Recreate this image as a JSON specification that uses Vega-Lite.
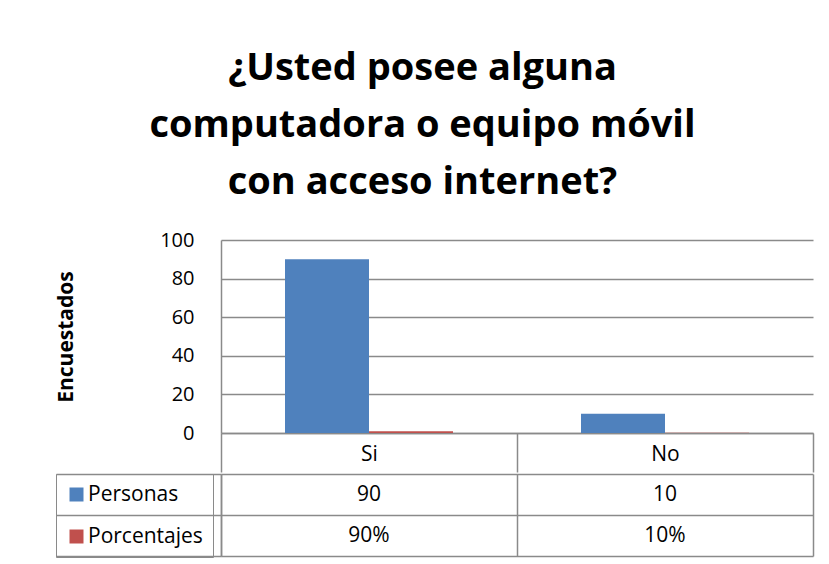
{
  "$schema": "https://vega.github.io/schema/vega-lite/v6.json",
  "background": "white",
  "padding": {"left": 55, "top": 50, "right": 17, "bottom": 5},
  "title": {
    "text": ["¿Usted posee alguna", "computadora o equipo móvil", "con acceso internet?"],
    "font": "Open Sans",
    "fontSize": 38,
    "fontWeight": "bold",
    "lineHeight": 57,
    "color": "black",
    "anchor": "middle",
    "dx": -12,
    "offset": 28
  },
  "datasets": {
    "tabla": [
      {"respuesta": "Si", "serie": "Personas", "valor": 90, "texto": "90"},
      {"respuesta": "Si", "serie": "Porcentajes", "valor": 0.9, "texto": "90%"},
      {"respuesta": "No", "serie": "Personas", "valor": 10, "texto": "10"},
      {"respuesta": "No", "serie": "Porcentajes", "valor": 0.1, "texto": "10%"}
    ]
  },
  "spacing": 0,
  "vconcat": [
    {
      "width": 592,
      "height": 193,
      "data": {"name": "tabla"},
      "mark": {"type": "bar"},
      "encoding": {
        "x": {
          "field": "respuesta", "type": "nominal", "sort": ["Si", "No"],
          "scale": {"paddingInner": 0, "paddingOuter": 0},
          "axis": {
            "title": null, "labelAngle": 0, "labelFont": "Open Sans", "labelFontSize": 21,
            "labelColor": "black", "labelBaseline": "middle", "labelPadding": -18,
            "tickBand": "extent", "tickSize": 39, "tickColor": "#8a8a8a", "tickWidth": 1.5,
            "domainColor": "#8a8a8a", "domainWidth": 1.5, "grid": false
          }
        },
        "xOffset": {
          "field": "serie", "type": "nominal", "sort": ["Personas", "Porcentajes"],
          "scale": {"paddingInner": 0, "paddingOuter": 0.762}
        },
        "y": {
          "field": "valor", "type": "quantitative",
          "scale": {"domain": [0, 100]},
          "axis": {
            "values": [0, 20, 40, 60, 80, 100],
            "title": "Encuestados", "titleFont": "Open Sans", "titleFontSize": 21,
            "titleFontWeight": "bold", "titleColor": "black", "titlePadding": 83,
            "labelFont": "Open Sans", "labelFontSize": 20, "labelColor": "black",
            "labelPadding": 27, "ticks": false,
            "grid": true, "gridColor": "#8a8a8a", "gridWidth": 1.5,
            "domainColor": "#8a8a8a", "domainWidth": 1.5
          }
        },
        "color": {
          "field": "serie", "type": "nominal", "sort": ["Personas", "Porcentajes"],
          "scale": {"range": ["#4F81BD", "#C0504D"]},
          "legend": {
            "title": null, "orient": "none", "legendX": -165, "legendY": 234,
            "symbolType": "square", "symbolSize": 196, "symbolStrokeWidth": 0,
            "labelFont": "Open Sans", "labelFontSize": 21, "labelColor": "black",
            "labelOffset": 1, "rowPadding": 20, "padding": 10,
            "strokeColor": "#8a8a8a"
          }
        }
      }
    },
    {
      "width": 592,
      "height": 82,
      "data": {"name": "tabla"},
      "mark": {"type": "text", "font": "Open Sans", "fontSize": 21, "color": "black"},
      "encoding": {
        "x": {
          "field": "respuesta", "type": "nominal", "sort": ["Si", "No"],
          "scale": {"paddingInner": 0, "paddingOuter": 0},
          "axis": {
            "orient": "top", "title": null, "labels": false, "ticks": false, "domain": false,
            "grid": true, "tickBand": "extent", "gridColor": "#8a8a8a", "gridWidth": 1.5
          }
        },
        "y": {
          "field": "serie", "type": "nominal", "sort": ["Personas", "Porcentajes"],
          "scale": {"paddingInner": 0, "paddingOuter": 0},
          "axis": {
            "title": null, "labels": false, "ticks": true, "tickSize": 165,
            "tickBand": "extent", "tickColor": "#8a8a8a", "tickWidth": 1.5,
            "grid": true, "gridColor": "#8a8a8a", "gridWidth": 1.5,
            "domainColor": "#8a8a8a", "domainWidth": 1.5
          }
        },
        "text": {"field": "texto", "type": "nominal"}
      }
    }
  ],
  "config": {
    "view": {"stroke": null},
    "font": "Open Sans"
  }
}
